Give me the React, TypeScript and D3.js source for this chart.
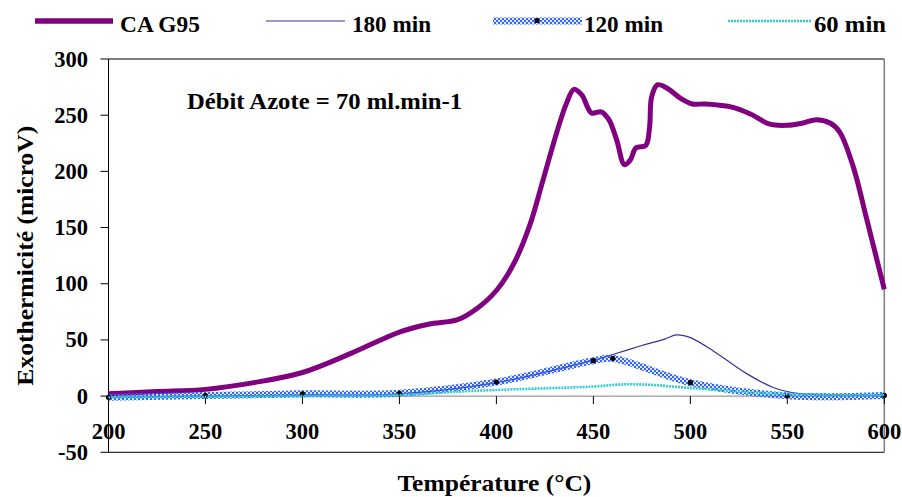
import React from "react";
import * as d3 from "d3";

const xTicks = [200, 250, 300, 350, 400, 450, 500, 550, 600];
const yTicks = [-50, 0, 50, 100, 150, 200, 250, 300];

const caTemps = [200, 225, 250, 275, 300, 325, 350, 365, 380, 390, 400, 409, 417, 424, 431, 436, 440, 444, 449, 454, 458, 462, 466, 469, 472, 477, 479, 480, 483, 488, 495, 501, 508, 522, 531, 541, 550, 558, 565, 572, 577, 584, 591, 600];
const caValues = [2, 4, 6, 12, 21, 38, 57, 64, 68, 78, 94, 118, 151, 192, 234, 260, 273, 268, 252, 253, 246, 228, 206, 210, 221, 223, 240, 266, 277, 274, 265, 260, 260, 257, 251, 242, 241, 243, 246, 243, 235, 204, 157, 95];

const t180 = [200, 250, 300, 350, 400, 450, 460, 475, 487, 493, 500, 512, 529, 543, 553, 565, 600];
const v180 = [-1, 0, 1, 2, 12, 32, 37, 45, 51, 54.5, 52, 40, 20, 7.5, 3, 1.5, 1];

const t120 = [200, 250, 300, 350, 400, 450, 460, 500, 550, 600];
const v120 = [-1, 0.5, 2, 2.5, 12.5, 31.5, 33.5, 12, 0.3, 0.6];

const t60 = [200, 250, 300, 350, 386, 426, 450, 466, 480, 498, 522, 546, 575, 600];
const v60 = [-1, -0.5, 0, 1, 4.5, 7, 8.5, 10.5, 10, 7.5, 4.5, 2, 1, 1];

const seriesNames = ["CA G95", "180 min", "120 min", "60 min"];

const FONT = "'Liberation Serif', 'Times New Roman', serif";

export default function App() {
  const x = d3.scaleLinear().domain([200, 600]).range([108.5, 884.3]);
  const y = d3.scaleLinear().domain([-50, 300]).range([452.3, 59]);

  const mk = (ts: number[], vs: number[], curve: d3.CurveFactory) =>
    d3
      .line<number>()
      .x((_, i) => x(ts[i]))
      .y((v) => y(v))
      .curve(curve)(vs) || "";

  const caPath = mk(caTemps, caValues, d3.curveCatmullRom.alpha(0.5));
  const p180 = mk(t180, v180, d3.curveCatmullRom.alpha(0.5));
  const p120 = mk(t120, v120, d3.curveCatmullRom.alpha(0.5));
  const p60 = mk(t60, v60, d3.curveCatmullRom.alpha(0.5));

  const x0 = x(200), x1 = x(600), yTop = y(300), yBot = y(-50), yZero = y(0);
  const fs = 22.5;
  const legendText = [
    { x: 120, w: 80 },
    { x: 352, w: 79 },
    { x: 584, w: 79 },
    { x: 814, w: 72 },
  ];

  return (
    <svg
      width={902}
      height={497}
      style={{ position: "absolute", left: 0, top: 0, background: "#fff" }}
      fontFamily={FONT}
      fontWeight="bold"
    >
      <defs>
        <pattern id="chk" width="4" height="4" patternUnits="userSpaceOnUse">
          <rect width="4" height="4" fill="rgba(51,102,255,0.15)" />
          <rect x="0" y="0" width="2" height="2" fill="#3366ff" />
          <rect x="2" y="2" width="2" height="2" fill="#3366ff" />
        </pattern>
      </defs>
      <rect width={902} height={497} fill="#fff" />

      {/* frame */}
      <line x1={x0} x2={x1} y1={yTop} y2={yTop} stroke="#000" strokeWidth={1} />
      <line x1={x0} x2={x1} y1={yBot} y2={yBot} stroke="#000" strokeWidth={1} />
      <line x1={x1} x2={x1} y1={yTop} y2={yBot} stroke="#808080" strokeWidth={1.5} />
      <line x1={x0} x2={x0} y1={yTop} y2={yBot} stroke="#000" strokeWidth={1} />

      {/* y ticks */}
      {yTicks.map((t) => (
        <g key={"y" + t}>
          <line x1={x0 - 8} x2={x0} y1={y(t)} y2={y(t)} stroke="#000" />
          <text x={88} y={y(t) + 7.5} textAnchor="end" fontSize={fs} fill="#000">
            {t}
          </text>
        </g>
      ))}

      {/* x axis at zero */}
      <line x1={x0} x2={x1} y1={yZero} y2={yZero} stroke="#808080" strokeWidth={1} />
      {xTicks.map((t) => (
        <g key={"x" + t}>
          <line x1={x(t)} x2={x(t)} y1={yZero} y2={yZero + 8} stroke="#000" />
          <text x={x(t)} y={439} textAnchor="middle" fontSize={fs} fill="#000">
            {t}
          </text>
        </g>
      ))}

      {/* series */}
      <path d={caPath} fill="none" stroke="#800080" strokeWidth={5} strokeLinejoin="round" />
      <path d={p180} fill="none" stroke="#333399" strokeWidth={1.2} />
      <path d={p120} fill="none" stroke="url(#chk)" strokeWidth={7} />
      {t120.map((t, i) => (
        <circle key={"m" + t} cx={x(t)} cy={y(v120[i])} r={2.6} fill="#000" />
      ))}
      <path d={p60} fill="none" stroke="#33cccc" strokeWidth={2.6} strokeDasharray="2,1" />

      {/* annotation */}
      <text x={187} y={109} fontSize={fs} fill="#000" textLength={275} lengthAdjust="spacingAndGlyphs">
        Débit Azote = 70 ml.min-1
      </text>

      {/* axis titles */}
      <text
        x={(x0 + x1) / 2 - 2}
        y={491}
        textAnchor="middle"
        fontSize={fs}
        fill="#000"
        textLength={194}
        lengthAdjust="spacingAndGlyphs"
      >
        Température (°C)
      </text>
      <text
        transform={`translate(33,${(yTop + yBot) / 2}) rotate(-90)`}
        textAnchor="middle"
        fontSize={fs}
        fill="#000"
        textLength={260}
        lengthAdjust="spacingAndGlyphs"
      >
        Exothermicité (microV)
      </text>

      {/* legend */}
      <line x1={35} x2={113} y1={21} y2={21} stroke="#800080" strokeWidth={5.5} />
      <line x1={266} x2={345} y1={21} y2={21} stroke="#333399" strokeWidth={1.2} />
      <rect x={493} y={17.5} width={89} height={7} fill="url(#chk)" />
      <circle cx={537} cy={20.5} r={2.6} fill="#000" />
      <line x1={728} x2={811} y1={21} y2={21} stroke="#33cccc" strokeWidth={2.6} strokeDasharray="2,1" />
      {seriesNames.map((n, i) => (
        <text
          key={n}
          x={legendText[i].x}
          y={32}
          fontSize={fs}
          fill="#000"
          textLength={legendText[i].w}
          lengthAdjust="spacingAndGlyphs"
        >
          {n}
        </text>
      ))}
    </svg>
  );
}
